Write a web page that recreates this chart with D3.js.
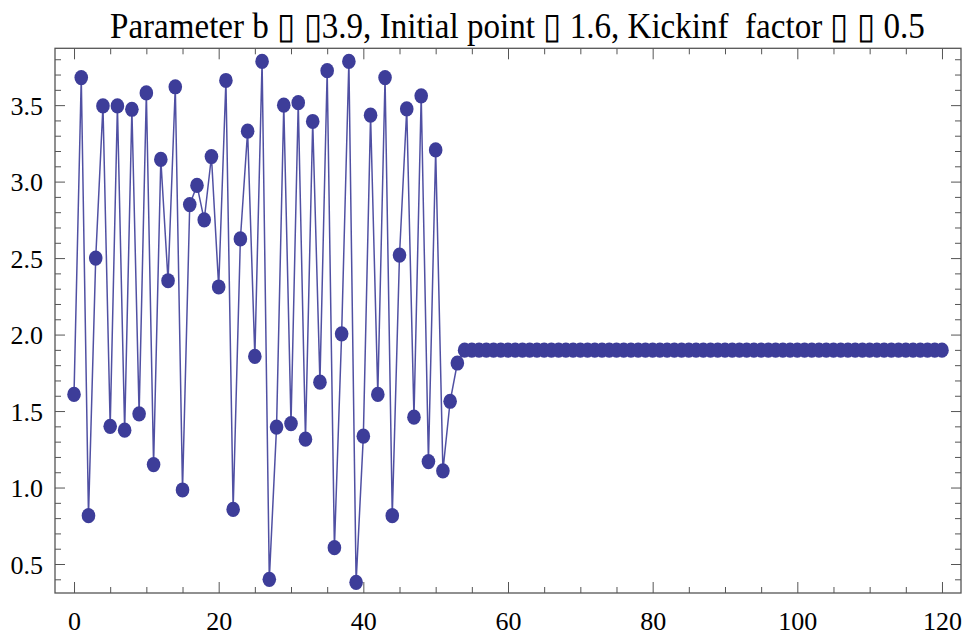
<!DOCTYPE html>
<html>
<head>
<meta charset="utf-8">
<script src="https://cdn.jsdelivr.net/npm/d3@7"></script>
<style>
  html, body { margin: 0; padding: 0; background: #fff; }
  svg { display: block; }
  text { font-family: "Liberation Serif", "Times New Roman", serif; fill: #000; }
</style>
</head>
<body>
<svg id="chart" width="971" height="637"></svg>
<script>
// ---- data ----
const titleText = "Parameter b \u25AF \u25AF3.9, Initial point \u25AF 1.6, Kickinf  factor \u25AF \u25AF 0.5";
const iterations = d3.range(0, 121);
const values = [
  1.609, 3.680, 0.816, 2.500, 3.495, 1.400, 3.495, 1.375, 3.473, 1.482,
  3.580, 1.150, 3.145, 2.352, 3.620, 0.984, 2.850, 2.975, 2.750, 3.164,
  2.311, 3.661, 0.857, 2.625, 3.330, 1.857, 3.786, 0.400, 1.395, 3.500,
  1.418, 3.516, 1.316, 3.393, 1.689, 3.725, 0.607, 2.005, 3.786, 0.380,
  1.336, 3.434, 1.609, 3.680, 0.816, 2.520, 3.475, 1.460, 3.561, 1.170,
  3.207, 1.109, 1.564, 1.814, 1.898, 1.898, 1.898, 1.898, 1.898, 1.898,
  1.898, 1.898, 1.898, 1.898, 1.898, 1.898, 1.898, 1.898, 1.898, 1.898,
  1.898, 1.898, 1.898, 1.898, 1.898, 1.898, 1.898, 1.898, 1.898, 1.898,
  1.898, 1.898, 1.898, 1.898, 1.898, 1.898, 1.898, 1.898, 1.898, 1.898,
  1.898, 1.898, 1.898, 1.898, 1.898, 1.898, 1.898, 1.898, 1.898, 1.898,
  1.898, 1.898, 1.898, 1.898, 1.898, 1.898, 1.898, 1.898, 1.898, 1.898,
  1.898, 1.898, 1.898, 1.898, 1.898, 1.898, 1.898, 1.898, 1.898, 1.898,
  1.898
];
const xDomain = [-2.63, 122.63];
const yDomain = [0.3105, 3.8715];
const xMajorTicks = [0, 20, 40, 60, 80, 100, 120];
const xMinorTicks = [5, 10, 15, 25, 30, 35, 45, 50, 55, 65, 70, 75, 85, 90, 95, 105, 110, 115];
const yMajorTicks = [0.5, 1.0, 1.5, 2.0, 2.5, 3.0, 3.5];
const yMinorTicks = [0.4, 0.6, 0.7, 0.8, 0.9, 1.1, 1.2, 1.3, 1.4, 1.6, 1.7, 1.8, 1.9,
                     2.1, 2.2, 2.3, 2.4, 2.6, 2.7, 2.8, 2.9, 3.1, 3.2, 3.3, 3.4, 3.6, 3.7, 3.8];

// ---- layout ----
const padL = 55, padR = 961, padT = 48.3, padB = 593;
const color = "#3d3d99";
const frameColor = "#555";

const svg = d3.select("#chart");
const x = d3.scaleLinear().domain(xDomain).range([padL, padR]);
const y = d3.scaleLinear().domain(yDomain).range([padB, padT]);

const pts = iterations.map((it, i) => ({ x: it, y: values[i] }));

svg.append("defs").append("clipPath").attr("id", "clip")
  .append("rect").attr("x", padL).attr("y", padT).attr("width", padR - padL).attr("height", padB - padT);

// line
svg.append("path")
  .datum(pts)
  .attr("clip-path", "url(#clip)")
  .attr("fill", "none")
  .attr("stroke", color)
  .attr("stroke-width", 1.5)
  .attr("stroke-opacity", 0.9)
  .attr("d", d3.line().x(d => x(d.x)).y(d => y(d.y)));

// markers
svg.append("g").selectAll("ellipse")
  .data(pts)
  .join("ellipse")
  .attr("cx", d => x(d.x))
  .attr("cy", d => y(d.y))
  .attr("rx", 6.8)
  .attr("ry", 7.6)
  .attr("fill", color);

function styleAxis(g) {
  g.select(".domain").remove();
  g.selectAll(".tick line").attr("stroke", frameColor).attr("stroke-width", 1);
  g.selectAll(".tick text")
    .style("font-family", "'Liberation Serif', 'Times New Roman', serif")
    .style("font-size", "26px")
    .attr("fill", "#000");
}
const fmtY = d3.format(".1f");

// bottom
svg.append("g").attr("transform", `translate(0,${padB})`)
  .call(d3.axisBottom(x).tickValues(xMinorTicks).tickSizeInner(-6).tickSizeOuter(0).tickFormat(""))
  .call(styleAxis);
svg.append("g").attr("transform", `translate(0,${padB})`)
  .call(d3.axisBottom(x).tickValues(xMajorTicks).tickSizeInner(-11).tickSizeOuter(0).tickPadding(19).tickFormat(d3.format("d")))
  .call(styleAxis);
// top
svg.append("g").attr("transform", `translate(0,${padT})`)
  .call(d3.axisTop(x).tickValues(xMinorTicks).tickSizeInner(-6).tickSizeOuter(0).tickFormat(""))
  .call(styleAxis);
svg.append("g").attr("transform", `translate(0,${padT})`)
  .call(d3.axisTop(x).tickValues(xMajorTicks).tickSizeInner(-11).tickSizeOuter(0).tickFormat(""))
  .call(styleAxis);
// left
svg.append("g").attr("transform", `translate(${padL},0)`)
  .call(d3.axisLeft(y).tickValues(yMinorTicks).tickSizeInner(-6).tickSizeOuter(0).tickFormat(""))
  .call(styleAxis);
svg.append("g").attr("transform", `translate(${padL},0)`)
  .call(d3.axisLeft(y).tickValues(yMajorTicks).tickSizeInner(-10).tickSizeOuter(0).tickPadding(12).tickFormat(fmtY))
  .call(styleAxis)
  .call(g => g.selectAll(".tick text").attr("dy", "0.36em"));
// right
svg.append("g").attr("transform", `translate(${padR},0)`)
  .call(d3.axisRight(y).tickValues(yMinorTicks).tickSizeInner(-6).tickSizeOuter(0).tickFormat(""))
  .call(styleAxis);
svg.append("g").attr("transform", `translate(${padR},0)`)
  .call(d3.axisRight(y).tickValues(yMajorTicks).tickSizeInner(-10).tickSizeOuter(0).tickFormat(""))
  .call(styleAxis);

// frame
svg.append("rect")
  .attr("x", padL).attr("y", padT)
  .attr("width", padR - padL).attr("height", padB - padT)
  .attr("fill", "none").attr("stroke", frameColor).attr("stroke-width", 1.3);

// title: horizontally condensed to span the reference width
const title = svg.append("text")
  .attr("x", 0).attr("y", 0)
  .style("font-size", "36px")
  .style("white-space", "pre")
  .attr("xml:space", "preserve")
  .text(titleText);
const natural = title.node().getComputedTextLength();
const sx = 816 / natural;
title.attr("transform", `translate(110,38) scale(${sx},1)`);
</script>
</body>
</html>
